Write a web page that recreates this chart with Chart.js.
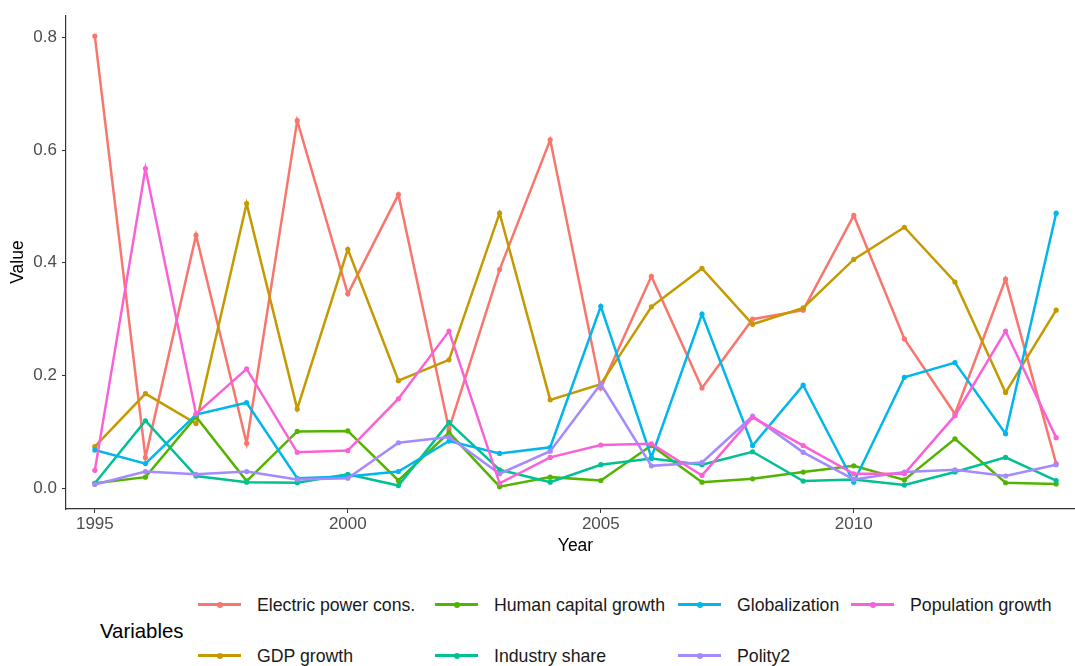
<!DOCTYPE html>
<html>
<head>
<meta charset="utf-8">
<script src="https://cdn.jsdelivr.net/npm/chart.js@4/dist/chart.umd.min.js"></script>
<style>
  body { margin: 0; background: #fff; overflow: hidden; }
  #wrap { position: relative; width: 1075px; height: 666px; overflow: hidden;
          font-family: "Liberation Sans", Arial, sans-serif; }
  #chart { position: absolute; left: 0; top: 0; }
  .ltitle { position: absolute; left: 100px; top: 619px; font-size: 20.4px; color: #000; line-height: 24px; }
  .item { position: absolute; height: 24px; }
  .key { position: absolute; left: 0; top: 10px; width: 43px; height: 3px; }
  .dot { position: absolute; left: 19px; top: -1.5px; width: 6px; height: 6px; border-radius: 50%; }
  .lab { position: absolute; left: 59px; top: 0; font-size: 17.7px; line-height: 24px; color: #1a1a1a; white-space: nowrap; }
</style>
</head>
<body>
<div id="wrap">
  <canvas id="chart" width="1088" height="560"></canvas>
  <div class="ltitle">Variables</div>
  <div id="legend"></div>
</div>
<script>
// values, one array per variable
const years = [1995, 1996, 1997, 1998, 1999, 2000, 2001, 2002, 2003, 2004,
               2005, 2006, 2007, 2008, 2009, 2010, 2011, 2012, 2013, 2014];

const seriesNames = ["Electric power cons.", "GDP growth", "Human capital growth",
                     "Industry share", "Globalization", "Polity2", "Population growth"];

const electricPower = [0.802, 0.055, 0.449, 0.080, 0.652, 0.345, 0.521, 0.105, 0.388, 0.618,
                       0.178, 0.376, 0.178, 0.300, 0.316, 0.484, 0.265, 0.132, 0.371, 0.044];
const gdpGrowth     = [0.074, 0.168, 0.115, 0.505, 0.141, 0.424, 0.191, 0.228, 0.488, 0.157,
                       0.185, 0.322, 0.390, 0.291, 0.320, 0.406, 0.463, 0.366, 0.170, 0.316];
const humanCapital  = [0.009, 0.020, 0.127, 0.013, 0.101, 0.102, 0.014, 0.099, 0.003, 0.020,
                       0.014, 0.076, 0.011, 0.017, 0.029, 0.040, 0.015, 0.088, 0.010, 0.008];
const industryShare = [0.009, 0.120, 0.022, 0.011, 0.010, 0.025, 0.005, 0.117, 0.033, 0.011,
                       0.042, 0.053, 0.042, 0.065, 0.013, 0.016, 0.006, 0.029, 0.055, 0.014];
const globalization = [0.068, 0.044, 0.131, 0.152, 0.018, 0.021, 0.030, 0.084, 0.062, 0.073,
                       0.323, 0.055, 0.309, 0.076, 0.183, 0.011, 0.197, 0.223, 0.097, 0.488];
const polity2       = [0.007, 0.030, 0.025, 0.030, 0.016, 0.018, 0.081, 0.091, 0.026, 0.066,
                       0.185, 0.040, 0.046, 0.128, 0.064, 0.016, 0.029, 0.033, 0.022, 0.042];
const popGrowth     = [0.032, 0.567, 0.132, 0.212, 0.064, 0.067, 0.159, 0.279, 0.009, 0.055,
                       0.077, 0.079, 0.023, 0.126, 0.076, 0.026, 0.026, 0.129, 0.279, 0.090];

const xTicks = [1995, 2000, 2005, 2010];
const yTicks = [0, 0.2, 0.4, 0.6, 0.8];

// ggplot default hue palette
const palette = ["#F8766D", "#C49A00", "#53B400", "#00C094", "#00B6EB", "#A58AFF", "#FB61D7"];

const allSeries = [electricPower, gdpGrowth, humanCapital, industryShare, globalization, polity2, popGrowth];

const datasets = allSeries.map((vals, i) => ({
  label: seriesNames[i],
  data: years.map((yr, k) => ({ x: yr, y: vals[k] })),
  borderColor: palette[i],
  backgroundColor: palette[i],
  pointBackgroundColor: palette[i],
  pointBorderColor: palette[i],
  pointBorderWidth: 0,
  pointRadius: 2.6,
  pointHoverRadius: 2.6,
  borderWidth: 2.5,
  tension: 0,
  fill: false,
  order: allSeries.length - 1 - i   // later series drawn on top, like ggplot
}));

const font = "'Liberation Sans', Arial, sans-serif";

new Chart(document.getElementById("chart").getContext("2d"), {
  type: "line",
  data: { datasets: datasets },
  options: {
    responsive: false,
    animation: false,
    events: [],
    layout: { padding: { top: 12, right: 3, left: 0, bottom: 0 } },
    plugins: { legend: { display: false }, tooltip: { enabled: false } },
    scales: {
      x: {
        type: "linear",
        min: 1994.43,
        max: 2014.57,
        afterBuildTicks: s => { s.ticks = xTicks.map(v => ({ value: v })); },
        afterFit: s => { s.height = 51; },
        grid: { display: true, drawOnChartArea: false, drawTicks: true, tickLength: 4, color: "#333333", lineWidth: 1 },
        border: { display: true, color: "#333333", width: 1.2 },
        ticks: { color: "#4D4D4D", font: { family: font, size: 17 }, padding: 1, maxRotation: 0,
                 callback: v => String(v) },
        title: { display: true, text: "Year", color: "#000", font: { family: font, size: 17.5 },
                 padding: { top: 0, bottom: 3 } }
      },
      y: {
        min: -0.0365,
        max: 0.839,
        afterBuildTicks: s => { s.ticks = yTicks.map(v => ({ value: v })); },
        afterFit: s => { s.width = 66; },
        grid: { display: true, drawOnChartArea: false, drawTicks: true, tickLength: 4, color: "#333333", lineWidth: 1 },
        border: { display: true, color: "#333333", width: 1.2 },
        ticks: { color: "#4D4D4D", font: { family: font, size: 17 }, padding: 5,
                 callback: v => v.toFixed(1) },
        title: { display: true, text: "Value", color: "#000", font: { family: font, size: 17.5 },
                 padding: { top: 8, bottom: 0 } }
      }
    }
  }
});

// legend laid out like ggplot's 2-row legend (filled column by column)
const legendCols = [198, 435, 678, 851];
const legendRows = [593, 644];
const legend = document.getElementById("legend");
seriesNames.forEach((name, i) => {
  const col = Math.floor(i / 2), row = i % 2;
  const item = document.createElement("div");
  item.className = "item";
  item.style.left = legendCols[col] + "px";
  item.style.top = legendRows[row] + "px";
  item.innerHTML =
    '<div class="key" style="background:' + palette[i] + '">' +
      '<div class="dot" style="background:' + palette[i] + '"></div></div>' +
    '<div class="lab">' + name + '</div>';
  legend.appendChild(item);
});
</script>
</body>
</html>
